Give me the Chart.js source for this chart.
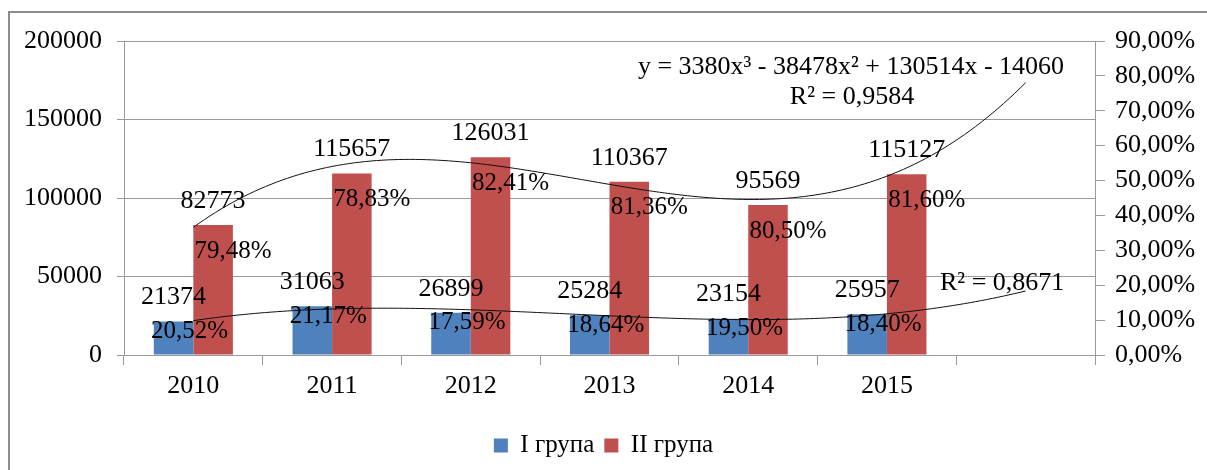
<!DOCTYPE html>
<html><head><meta charset="utf-8">
<script src="https://cdn.jsdelivr.net/npm/chart.js@4.4.1/dist/chart.umd.min.js"></script>
<style>
html,body{margin:0;padding:0;background:#fff;overflow:hidden;}
#wrap{position:relative;width:1207px;height:470px;overflow:hidden;}
#frame{position:absolute;left:8px;top:11px;width:1300px;height:600px;border:2px solid #8c8c8c;box-sizing:border-box;}
canvas{position:absolute;left:0;top:0;}
</style></head><body>
<div id="wrap"><div id="frame"></div><canvas id="c" width="1207" height="470"></canvas></div>
<script>
// ---- data ----
const years = ['2010','2011','2012','2013','2014','2015',''];
const group1 = [21374,31063,26899,25284,23154,25957];
const group2 = [82773,115657,126031,110367,95569,115127];
const share1 = ['20,52%','21,17%','17,59%','18,64%','19,50%','18,40%'];
const share2 = ['79,48%','78,83%','82,41%','81,36%','80,50%','81,60%'];
const seriesNames = ['I група','II група'];
const leftTicks = [0,50000,100000,150000,200000];
const rightTicks = [0,0.1,0.2,0.3,0.4,0.5,0.6,0.7,0.8,0.9];
const eqII = 'y = 3380x³ - 38478x² + 130514x - 14060';
const r2II = 'R² = 0,9584';
const r2I = 'R² = 0,8671';
const trendDegree = 3;
const trendForwardTo = 7; // trend forecast forward one period

// least-squares polynomial fit (trendline, as in the original spreadsheet)
function polyfit(xs, ys, deg){
  const n = deg+1;
  const A = Array.from({length:n},()=>new Array(n+1).fill(0));
  for(let r=0;r<n;r++){
    for(let c=0;c<n;c++){ let s=0; xs.forEach(x=>s+=Math.pow(x,r+c)); A[r][c]=s; }
    let s=0; xs.forEach((x,i)=>s+=ys[i]*Math.pow(x,r)); A[r][n]=s;
  }
  for(let i=0;i<n;i++){
    let p=i; for(let k=i+1;k<n;k++) if(Math.abs(A[k][i])>Math.abs(A[p][i])) p=k;
    [A[i],A[p]]=[A[p],A[i]];
    for(let k=0;k<n;k++){ if(k===i) continue; const f=A[k][i]/A[i][i]; for(let j=i;j<=n;j++) A[k][j]-=f*A[i][j]; }
  }
  return A.map((row,i)=>row[n]/row[i]);
}
const trendCoef = [group1, group2].map(vals => polyfit(vals.map((v,i)=>i+1), vals, trendDegree));

const FONT = '"Liberation Serif", "Times New Roman", serif';
Chart.defaults.font.family = FONT;
Chart.defaults.color = '#000';
const GRID = '#9a9a9a';

const trendPlugin = {
  id:'trend',
  afterDatasetsDraw(chart){
    const ctx = chart.ctx, xs = chart.scales.x, ys = chart.scales.y;
    ctx.save();
    ctx.strokeStyle = '#111'; ctx.lineWidth = 1;
    trendCoef.forEach(coef=>{
      ctx.beginPath();
      for(let k=0;k<=150;k++){
        const x = 1 + (trendForwardTo-1)*k/150;
        let y=0; coef.forEach((c,p)=>y+=c*Math.pow(x,p));
        const px = xs.getPixelForValue(x-1), py = ys.getPixelForValue(y);
        if(k===0) ctx.moveTo(px,py); else ctx.lineTo(px,py);
      }
      ctx.stroke();
    });
    ctx.restore();
  }
};

const labelPlugin = {
  id:'barLabels',
  afterDraw(chart){
    const ctx = chart.ctx; ctx.save();
    ctx.fillStyle = '#000'; ctx.textAlign='center'; ctx.textBaseline='middle';
    [0,1].forEach(di=>{
      const meta = chart.getDatasetMeta(di);
      const vals = di===0?group1:group2;
      const shares = di===0?share1:share2;
      meta.data.forEach((bar,i)=>{
        if(vals[i]==null) return;
        ctx.font = '26px ' + FONT;
        ctx.fillText(String(vals[i]), bar.x, bar.y - 24);
        ctx.font = '25px ' + FONT;
        if(di===0) ctx.fillText(shares[i], bar.x + 16, bar.y + 10);
        else ctx.fillText(shares[i], bar.x + 20, bar.y + 26);
      });
    });
    const ca = chart.chartArea;
    ctx.font = '26px ' + FONT;
    ctx.fillText(eqII, ca.left + 727, 67);
    ctx.fillText(r2II, ca.left + 728, 97);
    ctx.textAlign='left';
    ctx.fillText(r2I, ca.left + 816, 283);
    ctx.restore();
  }
};

new Chart(document.getElementById('c'), {
  type:'bar',
  data:{
    labels: years,
    datasets:[
      {label:seriesNames[0], data:group1, backgroundColor:'#4F81BD', borderWidth:0},
      {label:seriesNames[1], data:group2, backgroundColor:'#C0504D', borderWidth:0}
    ]
  },
  options:{
    responsive:false,
    animation:false,
    layout:{padding:{top:41,left:0,right:0,bottom:2}},
    datasets:{bar:{categoryPercentage:0.57, barPercentage:1}},
    plugins:{
      legend:{position:'bottom', labels:{boxWidth:14, boxHeight:14, padding:10, font:{size:25, family:FONT}, color:'#000'}},
      tooltip:{enabled:false}
    },
    scales:{
      x:{type:'category', offset:true,
        grid:{drawOnChartArea:false, offset:true, tickLength:10, color:GRID},
        border:{color:GRID},
        ticks:{font:{size:26}, padding:6, color:'#000', maxRotation:0, autoSkip:false},
        afterFit:(s)=>{s.height=68;}
      },
      y:{type:'linear', position:'left', min:0, max:200000,
        afterBuildTicks:(s)=>{s.ticks = leftTicks.map(v=>({value:v}));},
        grid:{color:GRID, tickLength:7},
        border:{color:GRID},
        ticks:{font:{size:26}, padding:15, color:'#000', callback:(v)=>String(v)},
        afterFit:(s)=>{s.width=124;}
      },
      y2:{type:'linear', position:'right', min:0, max:0.9,
        afterBuildTicks:(s)=>{s.ticks = rightTicks.map(v=>({value:v}));},
        grid:{drawOnChartArea:false, color:GRID, tickLength:10},
        border:{color:GRID},
        ticks:{font:{size:26}, padding:10, color:'#000', callback:(v)=>(v*100).toFixed(2).replace('.',',')+'%'},
        afterFit:(s)=>{s.width=112;}
      }
    }
  },
  plugins:[trendPlugin, labelPlugin]
});
</script>
</body></html>
